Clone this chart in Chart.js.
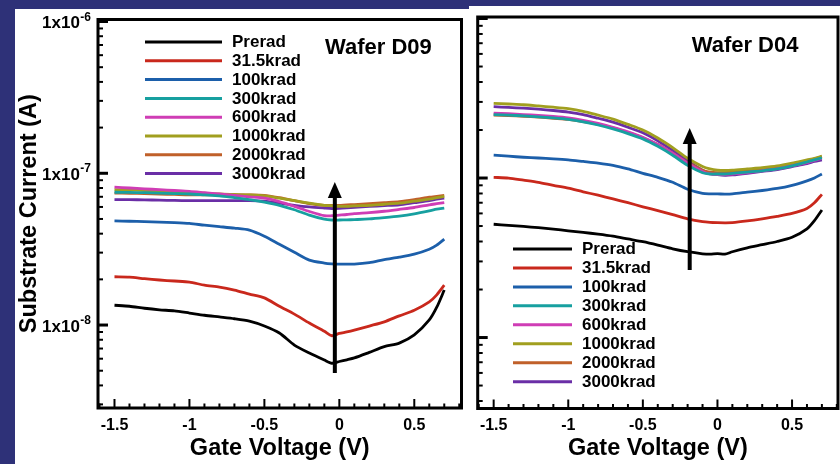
<!DOCTYPE html>
<html><head><meta charset="utf-8">
<script src="https://cdn.jsdelivr.net/npm/chart.js@4.4.1/dist/chart.umd.min.js"></script>
<style>
html,body{margin:0;padding:0;width:840px;height:464px;overflow:hidden;background:#2e3178;}
.panel{position:absolute;background:#fff;}
canvas{display:block;}
</style></head><body>
<div class="panel" style="left:15px;top:9px;width:454px;height:455px;"><canvas id="cL" width="454" height="455"></canvas></div>
<div class="panel" style="left:469px;top:6px;width:371px;height:458px;"><canvas id="cR" width="371" height="458"></canvas></div>
<script>
// ---------------- data ----------------
const seriesLabels = ['Prerad','31.5krad','100krad','300krad','600krad','1000krad','2000krad','3000krad'];
const seriesColors = ['#000000','#c9281c','#1c5faa','#17a0a0','#cf3db5','#a19f1f','#c0602a','#6a2ea6'];
const gateVoltage = [-1.5,-1.4,-1.3,-1.2,-1.1,-1.0,-0.9,-0.8,-0.7,-0.6,-0.5,-0.4,-0.3,-0.2,-0.1,-0.05,0,0.05,0.1,0.2,0.3,0.4,0.5,0.6,0.65,0.7];
const xMajorTicks = [-1.5,-1,-0.5,0,0.5];
const yDecadeLabels = [1e-8,1e-7,1e-6];

// Wafer D09 (left)
const d09_prerad = [1.35e-8,1.33e-8,1.29e-8,1.26e-8,1.24e-8,1.20e-8,1.16e-8,1.13e-8,1.10e-8,1.06e-8,9.85e-9,8.86e-9,7.38e-9,6.54e-9,5.88e-9,5.6e-9,5.75e-9,5.9e-9,6.07e-9,6.6e-9,7.2e-9,7.6e-9,8.6e-9,1.08e-8,1.31e-8,1.7e-8];
const d09_31k = [2.08e-8,2.07e-8,2.02e-8,1.98e-8,1.95e-8,1.92e-8,1.83e-8,1.78e-8,1.70e-8,1.60e-8,1.51e-8,1.33e-8,1.18e-8,1.03e-8,9.1e-9,8.5e-9,8.8e-9,9.0e-9,9.25e-9,9.85e-9,1.05e-8,1.15e-8,1.25e-8,1.42e-8,1.58e-8,1.83e-8];
const d09_100k = [4.86e-8,4.83e-8,4.8e-8,4.77e-8,4.73e-8,4.67e-8,4.55e-8,4.45e-8,4.35e-8,4.22e-8,3.85e-8,3.41e-8,3.02e-8,2.68e-8,2.56e-8,2.53e-8,2.52e-8,2.52e-8,2.52e-8,2.58e-8,2.7e-8,2.8e-8,2.93e-8,3.16e-8,3.36e-8,3.68e-8];
const d09_300k = [7.5e-8,7.48e-8,7.45e-8,7.4e-8,7.35e-8,7.3e-8,7.2e-8,7.1e-8,6.9e-8,6.7e-8,6.45e-8,6.15e-8,5.75e-8,5.3e-8,4.98e-8,4.92e-8,4.92e-8,4.93e-8,4.95e-8,5.0e-8,5.1e-8,5.22e-8,5.4e-8,5.65e-8,5.8e-8,5.9e-8];
const d09_600k = [8.1e-8,8.0e-8,7.9e-8,7.8e-8,7.7e-8,7.6e-8,7.45e-8,7.3e-8,7.15e-8,7.0e-8,6.85e-8,6.5e-8,6.05e-8,5.6e-8,5.25e-8,5.25e-8,5.3e-8,5.35e-8,5.42e-8,5.5e-8,5.62e-8,5.78e-8,5.95e-8,6.2e-8,6.3e-8,6.4e-8];
const d09_1000k = [7.8e-8,7.75e-8,7.7e-8,7.6e-8,7.5e-8,7.45e-8,7.4e-8,7.3e-8,7.25e-8,7.2e-8,7.1e-8,6.85e-8,6.6e-8,6.35e-8,6.15e-8,6.1e-8,6.05e-8,6.05e-8,6.1e-8,6.15e-8,6.25e-8,6.35e-8,6.55e-8,6.75e-8,6.9e-8,7.05e-8];
const d09_2000k = [7.4e-8,7.38e-8,7.35e-8,7.3e-8,7.25e-8,7.2e-8,7.2e-8,7.2e-8,7.2e-8,7.2e-8,7.15e-8,6.9e-8,6.6e-8,6.3e-8,6.15e-8,6.15e-8,6.15e-8,6.2e-8,6.22e-8,6.3e-8,6.4e-8,6.5e-8,6.7e-8,6.95e-8,7.05e-8,7.15e-8];
const d09_3000k = [6.7e-8,6.7e-8,6.68e-8,6.65e-8,6.62e-8,6.6e-8,6.6e-8,6.6e-8,6.6e-8,6.6e-8,6.55e-8,6.35e-8,6.15e-8,6.0e-8,5.9e-8,5.86e-8,5.88e-8,5.92e-8,5.97e-8,6.05e-8,6.12e-8,6.2e-8,6.4e-8,6.6e-8,6.75e-8,6.85e-8];

// Wafer D04 (right)
const d04_prerad = [5.13e-8,5.05e-8,4.97e-8,4.88e-8,4.78e-8,4.67e-8,4.56e-8,4.45e-8,4.32e-8,4.15e-8,3.99e-8,3.8e-8,3.6e-8,3.45e-8,3.35e-8,3.33e-8,3.36e-8,3.33e-8,3.45e-8,3.65e-8,3.82e-8,4.0e-8,4.25e-8,4.8e-8,5.4e-8,6.3e-8];
const d04_31k = [1.01e-7,1.0e-7,9.7e-8,9.4e-8,9.0e-8,8.65e-8,8.2e-8,7.8e-8,7.4e-8,7.0e-8,6.6e-8,6.25e-8,5.9e-8,5.55e-8,5.32e-8,5.27e-8,5.25e-8,5.24e-8,5.25e-8,5.38e-8,5.55e-8,5.75e-8,6.0e-8,6.45e-8,7.0e-8,7.9e-8];
const d04_100k = [1.39e-7,1.37e-7,1.35e-7,1.335e-7,1.32e-7,1.3e-7,1.27e-7,1.24e-7,1.2e-7,1.14e-7,1.07e-7,1.01e-7,9.4e-8,8.5e-8,8.0e-8,7.95e-8,7.95e-8,7.93e-8,7.95e-8,8.15e-8,8.35e-8,8.6e-8,9.0e-8,9.6e-8,1.0e-7,1.06e-7];
const d04_300k = [2.5e-7,2.48e-7,2.45e-7,2.42e-7,2.38e-7,2.33e-7,2.25e-7,2.15e-7,2.03e-7,1.9e-7,1.76e-7,1.58e-7,1.39e-7,1.2e-7,1.08e-7,1.06e-7,1.06e-7,1.06e-7,1.07e-7,1.09e-7,1.11e-7,1.14e-7,1.19e-7,1.26e-7,1.3e-7,1.34e-7];
const d04_600k = [2.55e-7,2.53e-7,2.5e-7,2.47e-7,2.43e-7,2.38e-7,2.3e-7,2.2e-7,2.08e-7,1.95e-7,1.8e-7,1.62e-7,1.43e-7,1.24e-7,1.1e-7,1.06e-7,1.05e-7,1.05e-7,1.06e-7,1.08e-7,1.11e-7,1.14e-7,1.19e-7,1.25e-7,1.29e-7,1.33e-7];
const d04_1000k = [2.94e-7,2.91e-7,2.88e-7,2.83e-7,2.78e-7,2.72e-7,2.62e-7,2.48e-7,2.34e-7,2.17e-7,2.0e-7,1.78e-7,1.55e-7,1.33e-7,1.18e-7,1.14e-7,1.12e-7,1.115e-7,1.12e-7,1.14e-7,1.16e-7,1.19e-7,1.24e-7,1.3e-7,1.33e-7,1.37e-7];
const d04_2000k = [2.48e-7,2.46e-7,2.44e-7,2.41e-7,2.37e-7,2.33e-7,2.26e-7,2.17e-7,2.06e-7,1.93e-7,1.79e-7,1.62e-7,1.43e-7,1.25e-7,1.12e-7,1.09e-7,1.08e-7,1.08e-7,1.09e-7,1.11e-7,1.13e-7,1.16e-7,1.21e-7,1.28e-7,1.32e-7,1.36e-7];
const d04_3000k = [2.8e-7,2.77e-7,2.74e-7,2.7e-7,2.65e-7,2.59e-7,2.5e-7,2.37e-7,2.24e-7,2.08e-7,1.92e-7,1.71e-7,1.49e-7,1.28e-7,1.12e-7,1.07e-7,1.05e-7,1.04e-7,1.045e-7,1.07e-7,1.1e-7,1.13e-7,1.18e-7,1.23e-7,1.27e-7,1.3e-7];

// arrows (data coordinates: x = gate voltage, from/to = current)
const arrowD09 = {x:-0.03, from:4.83e-9, to:8.76e-8};
const arrowD04 = {x:-0.186, from:2.65e-8, to:2.06e-7};

// ---------------- helpers ----------------
const FONT = '"Liberation Sans", Arial, Helvetica, sans-serif';

function makeDatasets(arrs){
  return arrs.map((a,i)=>({
    label: seriesLabels[i],
    data: gateVoltage.map((v,k)=>({x:v,y:a[k]})),
    borderColor: seriesColors[i],
    backgroundColor: seriesColors[i],
    borderWidth: 2.8,
    pointRadius: 0,
    tension: 0.25,
    fill: false
  }));
}

const decorPlugin = {
  id: 'decor',
  afterDatasetsDraw(chart, args, o){
    const {ctx, chartArea:a, scales:{x,y}} = chart;
    ctx.save();
    // arrow
    const ax = x.getPixelForValue(o.arrow.x);
    const y0 = y.getPixelForValue(o.arrow.from);
    const y1 = y.getPixelForValue(o.arrow.to);
    ctx.strokeStyle = '#000'; ctx.fillStyle = '#000';
    ctx.lineWidth = 4;
    ctx.beginPath(); ctx.moveTo(ax,y0); ctx.lineTo(ax,y1+12); ctx.stroke();
    ctx.beginPath(); ctx.moveTo(ax,y1); ctx.lineTo(ax-7,y1+16); ctx.lineTo(ax+7,y1+16); ctx.closePath(); ctx.fill();

    // frame
    ctx.lineWidth = 3;
    ctx.strokeRect(a.left, a.top, a.right-a.left, a.bottom-a.top);

    // x ticks (inward)
    ctx.lineWidth = 2;
    for (let k=-16; k<=8; k++){
      const v = k/10;
      const px = x.getPixelForValue(v);
      if (px < a.left+1 || px > a.right-1) continue;
      const major = xMajorTicks.some(m=>Math.abs(m-v)<1e-9);
      const len = major ? 9 : 4.5;
      ctx.beginPath(); ctx.moveTo(px,a.bottom); ctx.lineTo(px,a.bottom-len); ctx.stroke();
    }
    // y ticks (inward, log)
    for (let e=-10; e<=-6; e++){
      for (let m=1; m<=9; m++){
        const v = m*Math.pow(10,e);
        if (v < y.min || v > y.max) continue;
        const py = y.getPixelForValue(v);
        const len = m===1 ? 10 : 5;
        ctx.lineWidth = m===1 ? 3 : 2;
        ctx.beginPath(); ctx.moveTo(a.left,py); ctx.lineTo(a.left+len,py); ctx.stroke();
      }
    }
    // y tick labels with superscript exponent
    if (o.yLabels){
      for (const v of yDecadeLabels){
        const py = y.getPixelForValue(v);
        const exp = String(Math.round(Math.log10(v)));
        ctx.fillStyle = '#000';
        ctx.textBaseline = 'alphabetic';
        ctx.font = 'bold 12px ' + FONT;
        const wSup = ctx.measureText(exp).width;
        const right = a.left - 7;
        ctx.textAlign = 'left';
        ctx.fillText(exp, right - wSup, py - 1);
        ctx.font = 'bold 17px ' + FONT;
        const wMain = ctx.measureText('1x10').width;
        ctx.fillText('1x10', right - wSup - wMain - 0.5, py + 6.5);
      }
    }
    // legend
    const L = o.legend;
    ctx.textAlign = 'left'; ctx.textBaseline = 'middle';
    ctx.font = 'bold 17px ' + FONT;
    chart.data.datasets.forEach((ds,i)=>{
      const ly = L.y + i*L.dy;
      ctx.strokeStyle = ds.borderColor; ctx.lineWidth = 3;
      ctx.beginPath(); ctx.moveTo(L.x1,ly); ctx.lineTo(L.x2,ly); ctx.stroke();
      ctx.fillStyle = '#000';
      ctx.fillText(ds.label, L.xt, ly+0.5);
    });
    // wafer title
    ctx.font = 'bold 22px ' + FONT;
    ctx.fillText(o.title.text, o.title.x, o.title.y);
    ctx.restore();
  }
};

function makeChart(id, arrs, cfg){
  return new Chart(document.getElementById(id), {
    type: 'line',
    data: { datasets: makeDatasets(arrs) },
    plugins: [decorPlugin],
    options: {
      responsive: false,
      animation: false,
      devicePixelRatio: 1,
      layout: { padding: cfg.padding },
      plugins: {
        legend: { display: false },
        tooltip: { enabled: false },
        decor: cfg.decor
      },
      scales: {
        x: {
          type: 'linear', min: cfg.xMin, max: cfg.xMax,
          grid: { display: false, drawTicks: false }, border: { display: false },
          afterBuildTicks: s => { s.ticks = xMajorTicks.map(v=>({value:v})); },
          afterFit: s => { s.height = cfg.xHeight; },
          ticks: {
            color: '#000', font: { family: FONT, size: 16, weight: 'bold' }, padding: cfg.xTickPad,
            maxRotation: 0, autoSkip: false,
            callback: v => String(v)
          },
          title: { display: true, text: 'Gate Voltage (V)', color: '#000',
                   font: { family: FONT, size: 23.5, weight: 'bold' }, padding: { top: 0, bottom: cfg.xTitlePad } }
        },
        y: {
          type: 'logarithmic', min: cfg.yMin, max: cfg.yMax,
          grid: { display: false, drawTicks: false }, border: { display: false },
          ticks: { display: false },
          afterFit: s => { s.width = cfg.yWidth; },
          title: { display: cfg.yTitle, text: 'Substrate Current (A)', color: '#000',
                   font: { family: FONT, size: 23.5, weight: 'bold' }, padding: { top: 0, bottom: 0 } }
        }
      }
    }
  });
}

makeChart('cL', [d09_prerad,d09_31k,d09_100k,d09_300k,d09_600k,d09_1000k,d09_2000k,d09_3000k], {
  padding: { left: 0, top: 10.5, right: 7.5, bottom: 0 },
  xMin: -1.61, xMax: 0.815, yMin: 2.84e-9, yMax: 1.031e-6,
  xHeight: 56, yWidth: 83, xTickPad: 7.5, xTitlePad: 0.9, yTitle: true,
  decor: {
    arrow: arrowD09, yLabels: true,
    legend: { x1: 130, x2: 207, xt: 217, y: 33, dy: 18.8 },
    title: { text: 'Wafer D09', x: 310, y: 38.5 }
  }
});

makeChart('cR', [d04_prerad,d04_31k,d04_100k,d04_300k,d04_600k,d04_1000k,d04_2000k,d04_3000k], {
  padding: { left: 0, top: 11, right: 2, bottom: 0 },
  xMin: -1.607, xMax: 0.808, yMin: 3.59e-9, yMax: 1.022e-6,
  xHeight: 55.5, yWidth: 8.7, xTickPad: 7, xTitlePad: 0.9, yTitle: false,
  decor: {
    arrow: arrowD04, yLabels: false,
    legend: { x1: 44, x2: 103, xt: 113, y: 243, dy: 18.95 },
    title: { text: 'Wafer D04', x: 222.7, y: 40 }
  }
});
</script>
</body></html>
